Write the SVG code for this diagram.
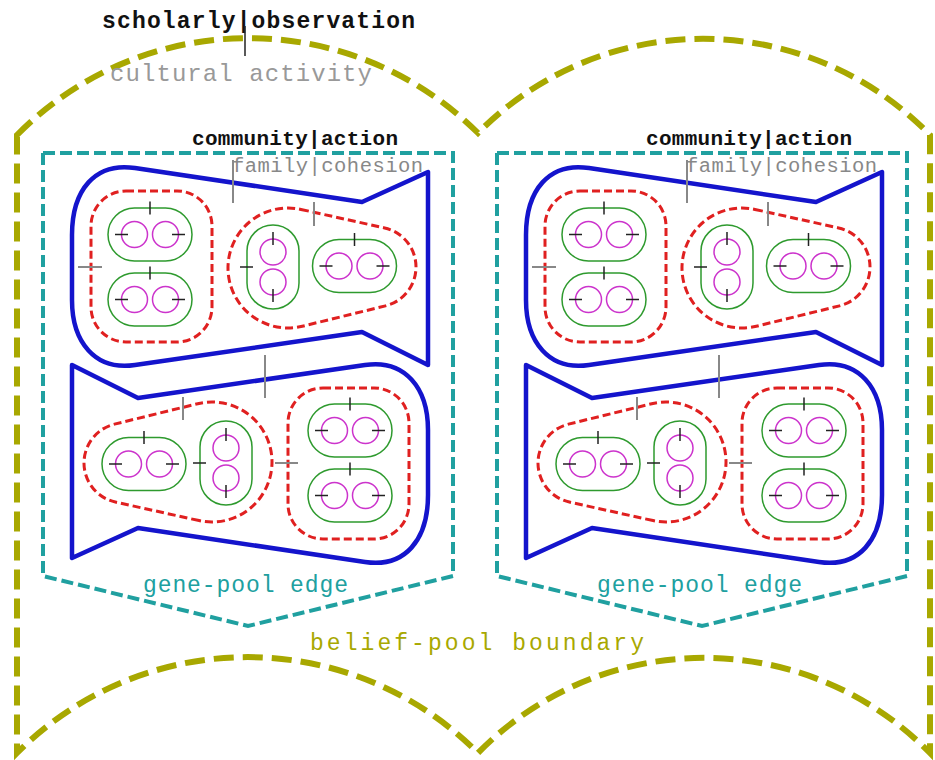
<svg xmlns="http://www.w3.org/2000/svg" xmlns:xlink="http://www.w3.org/1999/xlink" width="935" height="760" viewBox="0 0 935 760">
<style>
.olive{fill:none;stroke:#a8a800;stroke-width:6;stroke-dasharray:20 9}
.cyan{fill:none;stroke:#20a0a0;stroke-width:4;stroke-dasharray:12 5}
.blue{fill:none;stroke:#1414cc;stroke-width:4.5;stroke-linejoin:round}
.red{fill:none;stroke:#e02020;stroke-width:3;stroke-dasharray:8 4}
.green{fill:none;stroke:#2e9a2e;stroke-width:1.5}
.pink{fill:none;stroke:#cc33cc;stroke-width:1.5}
.tk{stroke:#222;stroke-width:1.5}
.tg{stroke:#888;stroke-width:2}
.mono{font-family:"Liberation Mono","DejaVu Sans Mono",monospace}
.b{font-weight:bold}
</style>
<defs>
<g id="hcap">
<rect class="green" x="-42" y="-26.5" width="84" height="53" rx="26.5"/>
<circle class="pink" cx="-15.5" cy="0" r="13"/>
<circle class="pink" cx="15.5" cy="0" r="13"/>
<line class="tk" x1="0" y1="-33" x2="0" y2="-20"/>
<line class="tk" x1="-35" y1="0" x2="-22" y2="0"/>
<line class="tk" x1="22" y1="0" x2="35" y2="0"/>
</g>
<g id="vcap">
<rect class="green" x="-26" y="-42" width="52" height="84" rx="26"/>
<circle class="pink" cx="0" cy="-15" r="13"/>
<circle class="pink" cx="0" cy="15" r="13"/>
<line class="tk" x1="-33" y1="0" x2="-20" y2="0"/>
<line class="tk" x1="0" y1="-35" x2="0" y2="-22"/>
<line class="tk" x1="0" y1="22" x2="0" y2="35"/>
</g>
<g id="half">
<path class="cyan" d="M43,153 H453 V576 L248,626 L43,576 Z"/>
<text class="mono" x="143" y="592" font-size="23" fill="#20a0a0" textLength="205">gene-pool edge</text>
<text class="mono b" x="192" y="145" font-size="21" fill="#111" textLength="206">community|action</text>
<text class="mono" x="232" y="172" font-size="20.5" fill="#888" textLength="191">family|cohesion</text>
<path class="blue" d="M135,168 L362,202 L428,172 L428,365 L362,332 L135,365 C95,371 72,342 72,300 L72,235 C72,190 95,162 135,168 Z"/>
<path class="blue" d="M365,562 L138,528 L72,558 L72,365 L138,398 L365,365 C405,359 428,388 428,430 L428,495 C428,540 405,568 365,562 Z"/>
<rect class="red" x="91" y="191" width="121" height="151" rx="35"/>
<path class="red" d="M300.97,209.42 L384.65,227.95 A40,40 0 0 1 385.54,305.85 L302.3,326.27 A60,60 0 1 1 300.97,209.42 Z"/>
<path class="red" d="M199.03,520.58 L115.35,502.05 A40,40 0 0 1 114.46,424.15 L197.7,403.73 A60,60 0 1 1 199.03,520.58 Z"/>
<rect class="red" x="288" y="388" width="121" height="151" rx="35"/>
<use xlink:href="#hcap" transform="translate(150,234.5)"/>
<use xlink:href="#hcap" transform="translate(150,299.5)"/>
<use xlink:href="#vcap" transform="translate(273,267)"/>
<use xlink:href="#hcap" transform="translate(354.5,266)"/>
<use xlink:href="#hcap" transform="translate(144,464)"/>
<use xlink:href="#vcap" transform="translate(226,463)"/>
<use xlink:href="#hcap" transform="translate(350,430.5)"/>
<use xlink:href="#hcap" transform="translate(350,495.5)"/>
<line class="tg" x1="78" y1="267" x2="102" y2="267"/>
<line class="tg" x1="314" y1="202" x2="314" y2="226"/>
<line class="tg" x1="183" y1="397" x2="183" y2="420"/>
<line class="tg" x1="275" y1="463" x2="298" y2="463"/>
<line class="tg" x1="233" y1="160" x2="233" y2="203"/>
<line class="tg" x1="265" y1="355" x2="265" y2="398"/>
</g>
</defs>
<rect width="935" height="760" fill="#fff"/>
<g id="belief-pool">
<path class="olive" d="M17,135 A325,325 0 0 1 478,133 A316,316 0 0 1 930,135 V753 A316,316 0 0 0 478,753 A325,325 0 0 0 17,753 Z"/>
<text class="mono b" x="102" y="28" font-size="23" fill="#111" textLength="313">scholarly|observation</text>
<text class="mono" x="110" y="81" font-size="24" fill="#999" textLength="262">cultural activity</text>
<text class="mono" x="310" y="650" font-size="23" fill="#a8a800" textLength="334">belief-pool boundary</text>
</g>
<g id="connectors">
<line class="tk" x1="245" y1="26" x2="245" y2="56"/>
</g>
<g id="gene-pool-left">
<use xlink:href="#half"/>
</g>
<g id="gene-pool-right" transform="translate(454,0)">
<use xlink:href="#half"/>
</g>
</svg>
